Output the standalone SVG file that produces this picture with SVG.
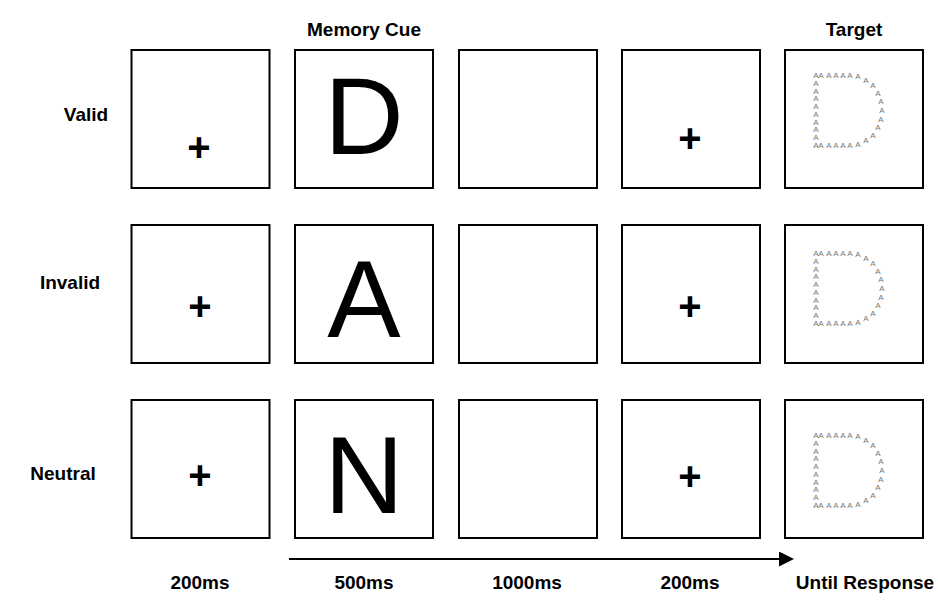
<svg xmlns="http://www.w3.org/2000/svg" xmlns:xlink="http://www.w3.org/1999/xlink" width="938" height="612" viewBox="0 0 938 612">
<style>
.box{fill:#fff;stroke:#000;stroke-width:2}
.lbl{font-family:"Liberation Sans",Arial,sans-serif;font-weight:bold;font-size:19px;fill:#000}
.plus{font-family:"Liberation Sans",Arial,sans-serif;font-weight:bold;font-size:40px;fill:#000;text-anchor:middle}
.big{font-family:"Liberation Sans",Arial,sans-serif;font-size:110px;fill:#000;text-anchor:middle}
.sa{font-family:"Liberation Sans",Arial,sans-serif;font-size:8px;fill:#777;text-anchor:middle}
.mid{text-anchor:middle}
</style>
<defs>
<marker id="ah" markerWidth="15" markerHeight="15" refX="0" refY="7.5" orient="auto" markerUnits="userSpaceOnUse">
<path d="M0,0 L15,7.5 L0,15 Z" fill="#000"/>
</marker>
<g id="dotD" class="sa">
<text x="816" y="78">A</text><text x="816" y="85.8">A</text><text x="816" y="93.6">A</text><text x="816" y="101.3">A</text><text x="816" y="109.1">A</text><text x="816" y="116.9">A</text><text x="816" y="124.7">A</text><text x="816" y="132.4">A</text><text x="816" y="140.2">A</text><text x="816" y="148">A</text>
<text x="821" y="78">A</text><text x="829" y="78">A</text><text x="836" y="78">A</text><text x="843" y="78">A</text><text x="850" y="78">A</text>
<text x="821" y="148">A</text><text x="829" y="148">A</text><text x="836" y="148">A</text><text x="843" y="148">A</text><text x="850" y="148">A</text>
<text x="858" y="79">A</text><text x="866" y="83">A</text><text x="873" y="88">A</text><text x="878" y="96">A</text><text x="881" y="104">A</text><text x="882" y="113">A</text><text x="881" y="122">A</text><text x="878" y="130">A</text><text x="873" y="138">A</text><text x="866" y="143">A</text><text x="858" y="147">A</text>
</g>
</defs>

<g id="headers" class="lbl">
<text x="364" y="36" class="mid">Memory Cue</text>
<text x="854" y="36" class="mid">Target</text>
</g>

<g id="row-labels" class="lbl">
<text x="86" y="121" class="mid">Valid</text>
<text x="70" y="289" class="mid">Invalid</text>
<text x="63" y="480" class="mid">Neutral</text>
</g>

<g id="valid-row">
<g id="v1"><rect class="box" x="131.5" y="50" width="138" height="138"/><text class="plus" x="199" y="161">+</text></g>
<g id="v2"><rect class="box" x="295" y="50" width="138" height="138"/><text class="big" x="364" y="154">D</text></g>
<g id="v3"><rect class="box" x="459" y="50" width="138" height="138"/></g>
<g id="v4"><rect class="box" x="622" y="50" width="138" height="138"/><text class="plus" x="690" y="152">+</text></g>
<g id="v5"><rect class="box" x="785" y="50" width="138" height="138"/><use xlink:href="#dotD"/></g>
</g>

<g id="invalid-row">
<g id="i1"><rect class="box" x="131.5" y="225" width="138" height="138"/><text class="plus" x="200" y="320">+</text></g>
<g id="i2"><rect class="box" x="295" y="225" width="138" height="138"/><text class="big" x="364" y="337">A</text></g>
<g id="i3"><rect class="box" x="459" y="225" width="138" height="138"/></g>
<g id="i4"><rect class="box" x="622" y="225" width="138" height="138"/><text class="plus" x="690" y="320">+</text></g>
<g id="i5"><rect class="box" x="785" y="225" width="138" height="138"/><use xlink:href="#dotD" transform="translate(0,178)"/></g>
</g>

<g id="neutral-row">
<g id="n1"><rect class="box" x="131.5" y="400" width="138" height="138"/><text class="plus" x="200" y="489">+</text></g>
<g id="n2"><rect class="box" x="295" y="400" width="138" height="138"/><text class="big" x="364" y="513">N</text></g>
<g id="n3"><rect class="box" x="459" y="400" width="138" height="138"/></g>
<g id="n4"><rect class="box" x="622" y="400" width="138" height="138"/><text class="plus" x="690" y="490">+</text></g>
<g id="n5"><rect class="box" x="785" y="400" width="138" height="138"/><use xlink:href="#dotD" transform="translate(0,360)"/></g>
</g>

<g id="connectors">
<line x1="289" y1="559" x2="779" y2="559" stroke="#000" stroke-width="2" marker-end="url(#ah)"/>
</g>

<g id="durations" class="lbl">
<text x="200" y="589" class="mid">200ms</text>
<text x="364" y="589" class="mid">500ms</text>
<text x="527" y="589" class="mid">1000ms</text>
<text x="690" y="589" class="mid">200ms</text>
<text x="865" y="589" class="mid">Until Response</text>
</g>
</svg>
